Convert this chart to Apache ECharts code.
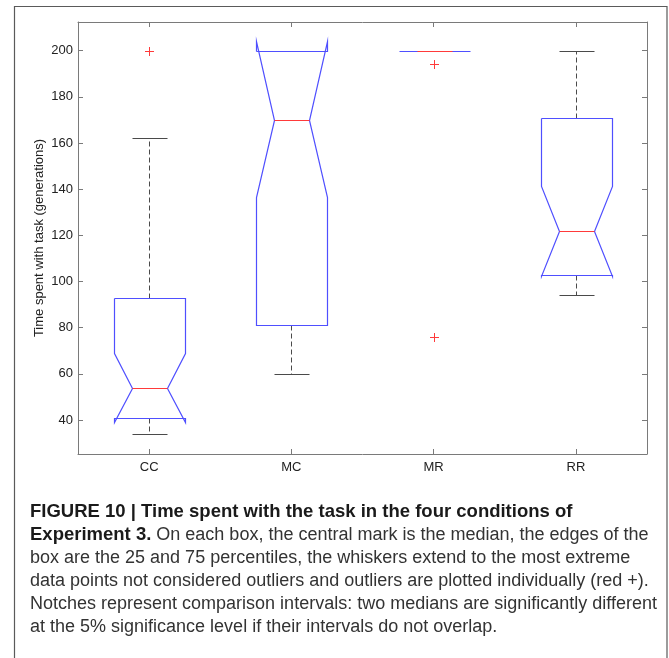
<!DOCTYPE html>
<html>
<head>
<meta charset="utf-8">
<script src="https://cdn.jsdelivr.net/npm/echarts@6.0.0/dist/echarts.min.js"></script>
<style>
  html, body { margin: 0; padding: 0; background: #fff; }
  #chart { width: 669px; height: 658px; }
</style>
</head>
<body>
<div id="chart"></div>
<script>
// conditions on the x axis
const categories = ['CC', 'MC', 'MR', 'RR']

// box statistics (generations)
const q1 = [41, 81, 200, 103]
const medians = [54, 170, 200, 122]
const q3 = [93, 200, 200, 171]
const notchLow = [39, 136.5, 200, 102.5]
const notchHigh = [69, 204, 200, 141.5]
const whiskerLow = [34, 60, 200, 94]
const whiskerHigh = [162, 200, 200, 200]

// outliers: [category index, value]
const outliers = [[0, 200], [2, 194], [2, 76]]

const yTicks = [40, 60, 80, 100, 120, 140, 160, 180, 200]

const yTitle = 'Time spent with task (generations)'

const captionLines = [
  '{b|FIGURE 10 | Time spent with the task in the four conditions of}',
  '{b|Experiment 3.} On each box, the central mark is the median, the edges of the',
  'box are the 25 and 75 percentiles, the whiskers extend to the most extreme',
  'data points not considered outliers and outliers are plotted individually (red +).',
  'Notches represent comparison intervals: two medians are significantly different',
  'at the 5% significance level if their intervals do not overlap.'
]

const boxData = categories.map((c, i) => [i, q1[i], medians[i], q3[i], notchLow[i], notchHigh[i], whiskerLow[i], whiskerHigh[i]])

const BLUE = '#4f4fff'
const RED = '#ff3a3a'
const GREY = '#4a4a4a'

const px = v => Math.round(v) + 0.5

const renderBox = (params, api) => {
  const idx = api.value(0)
  const y = v => px(api.coord([idx, v])[1])
  const cx = px(api.coord([idx, 0])[0])
  const band = api.size([1, 0])[0]
  const half = band * 0.25
  const inset = half * 0.5
  const l = px(cx - half), r = px(cx + half)
  const nl = px(cx - inset), nr = px(cx + inset)

  const vQ1 = y(api.value(1)), vMed = y(api.value(2)), vQ3 = y(api.value(3))
  const vNL = y(api.value(4)), vNH = y(api.value(5))
  const vWL = y(api.value(6)), vWH = y(api.value(7))

  const children = []
  // whiskers (dashed) and caps
  if (vWH < vQ3) {
    children.push({ type: 'line', shape: { x1: cx, y1: vQ3, x2: cx, y2: vWH }, style: { stroke: GREY, lineWidth: 1, lineDash: [5, 3] } })
    children.push({ type: 'line', shape: { x1: nl, y1: vWH, x2: nr, y2: vWH }, style: { stroke: GREY, lineWidth: 1.2, lineDash: null } })
  }
  if (vWL > vQ1) {
    children.push({ type: 'line', shape: { x1: cx, y1: vQ1, x2: cx, y2: vWL }, style: { stroke: GREY, lineWidth: 1, lineDash: [5, 3] } })
    children.push({ type: 'line', shape: { x1: nl, y1: vWL, x2: nr, y2: vWL }, style: { stroke: GREY, lineWidth: 1.2, lineDash: null } })
  }
  // notched box outline
  children.push({
    type: 'polyline',
    shape: {
      points: [
        [l, vQ3], [l, vNH], [nl, vMed], [l, vNL], [l, vQ1],
        [r, vQ1], [r, vNL], [nr, vMed], [r, vNH], [r, vQ3], [l, vQ3]
      ]
    },
    style: { fill: null, stroke: BLUE, lineWidth: 1.2, lineDash: null }
  })
  // median
  children.push({ type: 'line', shape: { x1: nl, y1: vMed, x2: nr, y2: vMed }, style: { stroke: RED, lineWidth: 1.2, lineDash: null } })

  return { type: 'group', children }
}

const renderOutlier = (params, api) => {
  const p = api.coord([api.value(0), api.value(1)])
  const x = Math.round(p[0]), y = Math.round(p[1])
  return {
    type: 'group',
    children: [
      { type: 'rect', shape: { x: x - 4, y: y, width: 9, height: 1 }, style: { fill: RED } },
      { type: 'rect', shape: { x: x, y: y - 4, width: 1, height: 9 }, style: { fill: RED } }
    ]
  }
}

const chart = echarts.init(document.getElementById('chart'))

const axisLine = { show: true, lineStyle: { color: '#7a7a7a', width: 1 } }
const tickStyle = { color: '#7a7a7a', width: 1 }

const option = {
  backgroundColor: '#fff',
  animation: false,
  textStyle: { fontFamily: 'Liberation Sans' },
  grid: { left: 78, right: 22, top: 22, bottom: 204 },
  xAxis: [
    {
      type: 'category',
      data: categories,
      position: 'bottom',
      axisLine,
      axisTick: { show: true, inside: true, length: 5, alignWithLabel: true, lineStyle: tickStyle },
      axisLabel: { color: '#222', fontSize: 13, margin: 7 },
      splitLine: { show: false }
    },
    {
      type: 'category',
      data: categories,
      position: 'top',
      axisLine,
      axisTick: { show: true, inside: true, length: 5, alignWithLabel: true, lineStyle: tickStyle },
      axisLabel: { show: false },
      splitLine: { show: false }
    }
  ],
  yAxis: [
    {
      type: 'value',
      min: 25.3,
      max: 212.4,
      position: 'left',
      axisLine,
      axisTick: { show: true, inside: true, length: 5, lineStyle: tickStyle, customValues: yTicks },
      axisLabel: { color: '#222', fontSize: 13, margin: 5, customValues: yTicks },
      splitLine: { show: false }
    },
    {
      type: 'value',
      min: 25.3,
      max: 212.4,
      position: 'right',
      axisLine,
      axisTick: { show: true, inside: true, length: 5, lineStyle: tickStyle, customValues: yTicks },
      axisLabel: { show: false, customValues: yTicks },
      splitLine: { show: false }
    }
  ],
  series: [
    {
      type: 'custom',
      renderItem: renderBox,
      data: boxData,
      encode: { x: 0, y: [1, 2, 3, 4, 5, 6, 7] },
      zlevel: 1,
      silent: true
    },
    {
      type: 'custom',
      renderItem: renderOutlier,
      data: outliers,
      encode: { x: 0, y: 1 },
      zlevel: 1,
      z: 5,
      silent: true
    }
  ],
  graphic: [
    {
      type: 'rect',
      shape: { x: 14.5, y: 6.5, width: 652.5, height: 700 },
      style: { fill: null, stroke: '#5a5a5a', lineWidth: 1.2 },
      silent: true
    },
    {
      type: 'text',
      x: 39.5,
      y: 238,
      rotation: Math.PI / 2,
      style: {
        text: yTitle,
        fontFamily: 'Liberation Sans',
        fontSize: 13,
        fill: '#222',
        align: 'center',
        verticalAlign: 'middle'
      },
      silent: true
    },
    ...captionLines.map((t, i) => ({
      type: 'text',
      x: 30,
      y: 512 + i * 23,
      style: {
        text: t,
        fontFamily: 'Liberation Sans',
        fontSize: 18,
        fill: '#333',
        verticalAlign: 'middle',
        rich: {
          b: { fontFamily: 'Liberation Sans', fontSize: 18.5, fontWeight: 'bold', fill: '#1a1a1a' }
        }
      },
      silent: true
    }))
  ]
}

chart.setOption(option)
</script>
</body>
</html>
